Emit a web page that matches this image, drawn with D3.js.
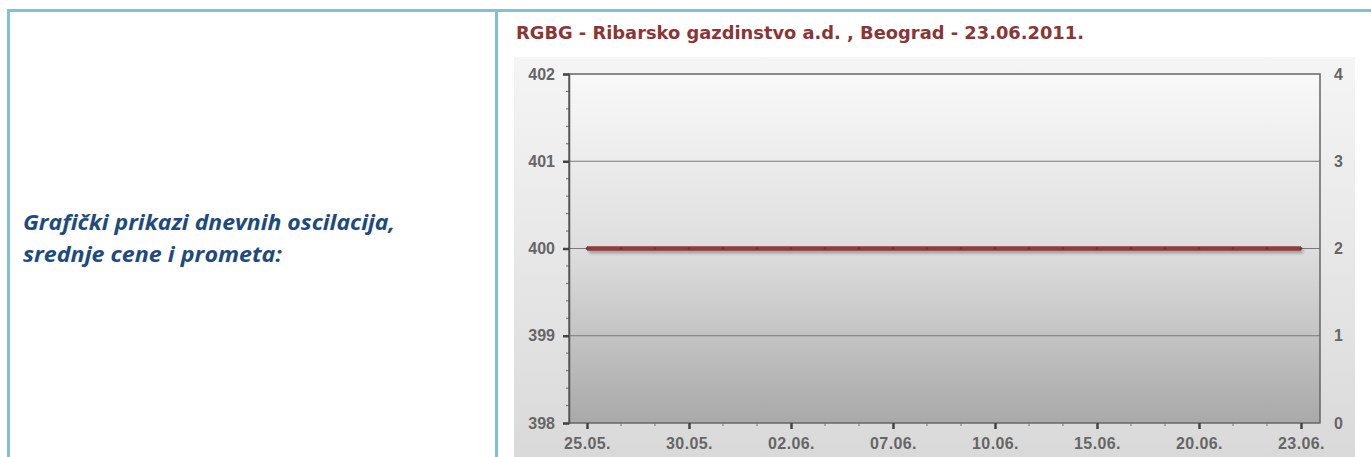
<!DOCTYPE html>
<html><head><meta charset="utf-8">
<script src="https://cdn.jsdelivr.net/npm/d3@7/dist/d3.min.js"></script>
<style>html,body{margin:0;padding:0;background:#fff;overflow:hidden}</style>
</head><body>
<script>
const title = "RGBG - Ribarsko gazdinstvo a.d. , Beograd - 23.06.2011.";
const sideText = ["Grafički prikazi dnevnih oscilacija,", "srednje cene i prometa:"];
const dates = ["25.05.","26.05.","27.05.","30.05.","31.05.","01.06.","02.06.","03.06.","06.06.","07.06.","08.06.","09.06.","10.06.","13.06.","14.06.","15.06.","16.06.","17.06.","20.06.","21.06.","22.06.","23.06."];
const prices = [400,400,400,400,400,400,400,400,400,400,400,400,400,400,400,400,400,400,400,400,400,400];
const priceTicks = [398,399,400,401,402];
const volumeTicks = [0,1,2,3,4];
const labelEvery = 3;

const W = 1371, H = 457;
const svg = d3.select("body").append("svg").attr("width", W).attr("height", H);
const defs = svg.append("defs");
const g1 = defs.append("linearGradient").attr("id","panelGrad").attr("x1",0).attr("y1",0).attr("x2",0).attr("y2",1);
g1.append("stop").attr("offset",0).attr("stop-color","#f5f5f5");
g1.append("stop").attr("offset",1).attr("stop-color","#d9d9d9");
const g2 = defs.append("linearGradient").attr("id","plotGrad").attr("x1",0).attr("y1",0).attr("x2",0).attr("y2",1);
g2.append("stop").attr("offset",0).attr("stop-color","#f9f9f9");
g2.append("stop").attr("offset",0.5).attr("stop-color","#dedede");
g2.append("stop").attr("offset",1).attr("stop-color","#a9a9a9");
const f = defs.append("filter").attr("id","shadow").attr("filterUnits","userSpaceOnUse")
  .attr("x",0).attr("y",0).attr("width",W).attr("height",H);
f.append("feDropShadow").attr("dx",2).attr("dy",2.5).attr("stdDeviation",1.5).attr("flood-color","#000").attr("flood-opacity",0.3);

// table borders
const bc = "#7cc3d3";
svg.append("rect").attr("x",7).attr("y",9).attr("width",W).attr("height",3).attr("fill",bc);
svg.append("rect").attr("x",7).attr("y",9).attr("width",3).attr("height",H).attr("fill",bc);
svg.append("rect").attr("x",495).attr("y",9).attr("width",3).attr("height",H).attr("fill",bc);

// side text
const sideWidths = [372, 259];
sideText.forEach((t,i)=> svg.append("text").attr("x",23).attr("y",230 + i*32)
  .attr("font-family","'Open Sans', 'Noto Sans', sans-serif")
  .attr("font-style","italic").attr("font-weight","bold").attr("font-size",21.5).attr("fill","#1f4a7e")
  .attr("textLength",sideWidths[i]).attr("lengthAdjust","spacingAndGlyphs").text(t));

// title
svg.append("text").attr("x",516).attr("y",39).attr("font-family","Tahoma, 'DejaVu Sans', sans-serif")
  .attr("font-weight","bold").attr("font-size",17).attr("fill","#8b3535")
  .attr("textLength",568).attr("lengthAdjust","spacingAndGlyphs").text(title);

// panel
svg.append("rect").attr("x",514).attr("y",57).attr("width",841).attr("height",H-57).attr("fill","url(#panelGrad)");

const L = 569, R = 1320, T = 74, B = 423;
svg.append("rect").attr("x",L).attr("y",T).attr("width",R-L).attr("height",B-T).attr("fill","url(#plotGrad)");

const x = d3.scalePoint().domain(dates).range([587, 1301]);
const y = d3.scaleLinear().domain([398,402]).range([B, T]);
const y2 = d3.scaleLinear().domain([0,4]).range([B, T]);

// grid lines
svg.append("g").selectAll("line").data(priceTicks.slice(1,-1)).join("line")
  .attr("x1",L).attr("x2",R).attr("y1",d=>y(d)).attr("y2",d=>y(d))
  .attr("stroke","#7a7a7a").attr("stroke-width",1.2);

// plot frame
svg.append("rect").attr("x",L).attr("y",T).attr("width",R-L).attr("height",B-T)
  .attr("fill","none").attr("stroke","#666").attr("stroke-width",1.5);

const font = "Arial, 'Liberation Sans', sans-serif";
const styleText = sel => sel.attr("font-family",font).attr("font-weight","bold").attr("font-size",16).attr("fill","#666");
// left axis
const minorY = d3.range(398, 402.0001, 0.2).filter(v => Math.abs(v - Math.round(v)) > 1e-6);
const ya = svg.append("g").attr("transform",`translate(${L},0)`)
  .call(d3.axisLeft(y).tickValues(priceTicks).tickSize(6).tickPadding(8).tickFormat(d3.format("d")));
ya.attr("font-size",16);
ya.select(".domain").attr("stroke","#555").attr("stroke-width",1.5);
ya.selectAll(".tick line").attr("stroke","#444").attr("stroke-width",2.5);
styleText(ya.selectAll(".tick text"));
svg.append("g").selectAll("line").data(minorY).join("line")
  .attr("x1",L-3).attr("x2",L).attr("y1",d=>y(d)).attr("y2",d=>y(d)).attr("stroke","#666").attr("stroke-width",1);

// right axis
const yb = svg.append("g").attr("transform",`translate(${R},0)`)
  .call(d3.axisRight(y2).tickValues(volumeTicks).tickSize(0).tickPadding(14).tickFormat(d3.format("d")));
yb.attr("font-size",16);
yb.select(".domain").remove();
styleText(yb.selectAll(".tick text"));

// bottom axis
const labeled = dates.filter((d,i)=> i % labelEvery === 0);
const xa = svg.append("g").attr("transform",`translate(0,${B})`)
  .call(d3.axisBottom(x).tickValues(labeled).tickSize(6).tickPadding(9));
xa.attr("font-size",16);
xa.select(".domain").remove();
xa.selectAll(".tick line").attr("stroke","#444").attr("stroke-width",2.5);
styleText(xa.selectAll(".tick text")).attr("letter-spacing","0.4px");
svg.append("g").selectAll("line").data(dates.filter((d,i)=> i % labelEvery !== 0)).join("line")
  .attr("x1",d=>x(d)).attr("x2",d=>x(d)).attr("y1",B).attr("y2",B+3).attr("stroke","#777").attr("stroke-width",1);

// price line
const line = d3.line().x((d,i)=>x(dates[i])).y(d=>y(d));
svg.append("path").datum(prices).attr("d",line).attr("fill","none")
  .attr("stroke","#8e3a3a").attr("stroke-width",4.7).attr("filter","url(#shadow)");
svg.append("g").selectAll("circle").data(prices).join("circle")
  .attr("cx",(d,i)=>x(dates[i])).attr("cy",d=>y(d)).attr("r",1.3).attr("fill","#7a2e2e");
</script>
</body></html>
